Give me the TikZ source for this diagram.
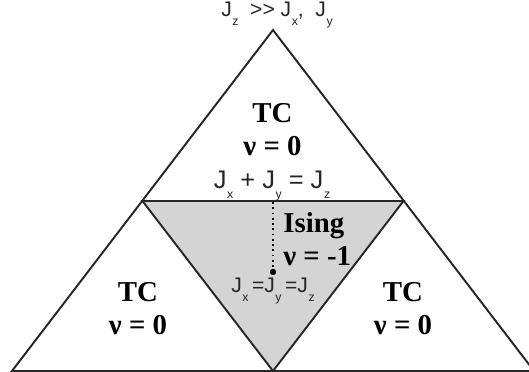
\documentclass[tikz,border=0pt]{standalone}
\usepackage{fontspec}
\setmainfont{Liberation Serif}
\newfontfamily\jfont{Liberation Sans}

\newcommand{\Jc}[1]{J\kern0.3pt\raisebox{-0.4em}{\fontsize{7}{7}\selectfont #1}}

\tikzset{
    phase/.style={align=center, font=\fontsize{16.4}{18.7}\selectfont\bfseries},
    jlabel/.style={font=\jfont\fontsize{12}{14}\selectfont, text=black!85},
}

\begin{document}
\begin{tikzpicture}[x=0.02cm, y=-0.02cm]
    \useasboundingbox (0,0) rectangle (529,372);

    \coordinate (a) at (273,30);
    \coordinate (b) at (12,371);
    \coordinate (c) at (534,371);

    \coordinate (l) at (142.5,201);
    \coordinate (r) at (403.5,201);
    \coordinate (m) at (273,371);

    % inner triangle
    \draw [line width=1.1pt, black!85, fill=black!17] (l) -- (r) -- (m) -- cycle;
    \draw [line width=1.1pt, black!85] (a) -- (b) -- (c) -- cycle;
    \draw [line width=1.6pt, black!85] (b) -- (c);
    \draw [line width=1.5pt, black!85] (l) -- (r);

    % dotted line to the point
    \coordinate (d0) at (273,202);
    \coordinate (d1) at (273,272);
    \draw [dotted, line width=1pt] (d0) -- (d1);
    \fill (d1) circle [radius=3.2];

    \node [jlabel] (top) at (277,15) {\Jc{z}\ \ >>\ \Jc{x},\ \ \Jc{y}};
    \node [phase] (tctop) at (272.5,130) {TC\\ν = 0};
    \node [phase] (tcleft) at (138,309) {TC\\ν = 0};
    \node [phase] (tcright) at (403,309) {TC\\ν = 0};
    \node [phase, align=left, anchor=west, inner sep=0pt] (ising) at (283,239.5) {Ising\\ν = -1};

    \node [jlabel, font=\jfont\fontsize{14.5}{16}\selectfont] (sum) at (272,186) {\Jc{x}\ + \Jc{y}\ = \Jc{z}};
    \node [jlabel] (eq) at (273,291) {\Jc{x}\,=\Jc{y}\,=\Jc{z}};

\end{tikzpicture}
\end{document}
